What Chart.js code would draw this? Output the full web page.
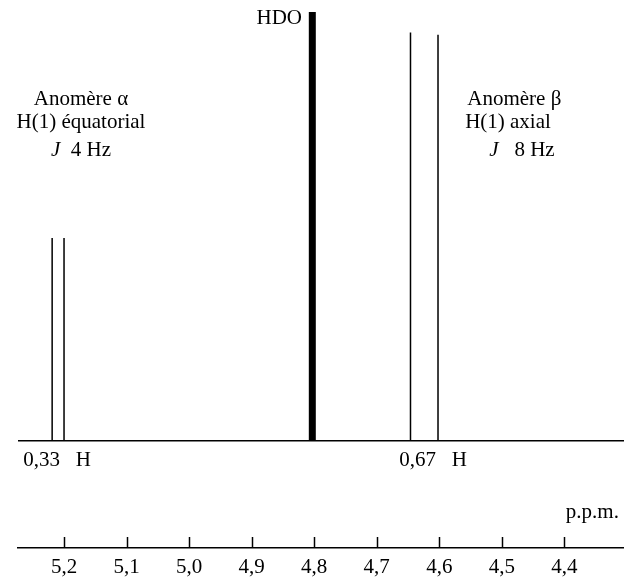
<!DOCTYPE html>
<html>
<head>
<meta charset="utf-8">
<script src="https://cdn.jsdelivr.net/npm/chart.js@4.4.0/dist/chart.umd.min.js"></script>
<style>
    body { margin: 0; background: #fff; }
    #wrap { width: 624px; height: 587px; }
</style>
</head>
<body>
<div id="wrap"><canvas id="nmrChart"></canvas></div>
<script>
// Déplacements chimiques (p.p.m.) et hauteurs relatives des raies
const alphaShifts = [5.219, 5.200];
const alphaHeights = [47.3, 47.3];
const betaShifts = [4.646, 4.602];
const betaHeights = [95.2, 94.7];
const hdoShift = [4.803];
const hdoHeight = [100];
const tickValues = [5.2, 5.1, 5.0, 4.9, 4.8, 4.7, 4.6, 4.5, 4.4];
const ppmMax = 5.2736;
const ppmMin = 4.3046;

const FONT = "'Liberation Serif', 'DejaVu Serif', serif";

// spectre : ligne de base + raies fines
function buildSpectrum() {
    let peaks = [];
    alphaShifts.forEach((p, i) => peaks.push({ p: p, h: alphaHeights[i] }));
    betaShifts.forEach((p, i) => peaks.push({ p: p, h: betaHeights[i] }));
    peaks.sort((a, b) => b.p - a.p);
    let pts = [{ x: ppmMax, y: 0 }];
    for (let pk of peaks) {
        pts.push({ x: pk.p, y: 0 });
        pts.push({ x: pk.p, y: pk.h });
        pts.push({ x: pk.p, y: 0 });
    }
    pts.push({ x: ppmMin, y: 0 });
    return pts;
}

function buildHdo() {
    let pts = [];
    hdoShift.forEach((p, i) => {
        pts.push({ x: p, y: 0 });
        pts.push({ x: p, y: hdoHeight[i] });
    });
    return pts;
}

// textes du schéma (position en p.p.m. / intensité)
const annotations = [
    { parts: [['Anomère α', false]], x: 5.1729, y: 79.6, align: 'center' },
    { parts: [['H(1) équatorial', false]], x: 5.1729, y: 74.3, align: 'center' },
    { parts: [['J', true], ['  4 Hz', false]], x: 5.1729, y: 67.7, align: 'center' },
    { parts: [['Anomère β', false]], x: 4.4800, y: 79.6, align: 'center' },
    { parts: [['H(1) axial', false]], x: 4.4901, y: 74.3, align: 'center' },
    { parts: [['J', true], ['   8 Hz', false]], x: 4.4677, y: 67.7, align: 'center' },
    { parts: [['HDO', false]], x: 4.8195, y: 98.6, align: 'right' },
    { parts: [['0,33   H', false]], x: 5.2112, y: -4.6, align: 'center' },
    { parts: [['0,67   H', false]], x: 4.6100, y: -4.6, align: 'center' },
    { parts: [['p.p.m.', false]], x: 4.3127, y: -16.7, align: 'right' }
];

const textPlugin = {
    id: 'textPlugin',
    afterDatasetsDraw(chart) {
        const ctx = chart.ctx;
        const xs = chart.scales.x, ys = chart.scales.y;
        ctx.save();
        ctx.fillStyle = '#000';
        ctx.textBaseline = 'middle';
        for (let a of annotations) {
            let widths = a.parts.map(pt => {
                ctx.font = (pt[1] ? 'italic ' : '') + '21px ' + FONT;
                return ctx.measureText(pt[0]).width;
            });
            let total = widths.reduce((s, w) => s + w, 0);
            let px = xs.getPixelForValue(a.x);
            let py = ys.getPixelForValue(a.y);
            let start = a.align === 'center' ? px - total / 2 : (a.align === 'right' ? px - total : px);
            ctx.textAlign = 'left';
            a.parts.forEach((pt, i) => {
                ctx.font = (pt[1] ? 'italic ' : '') + '21px ' + FONT;
                ctx.fillText(pt[0], start, py);
                start += widths[i];
            });
        }
        ctx.restore();
    }
};

// petites graduations vers le haut sur l'axe des p.p.m.
const tickPlugin = {
    id: 'tickPlugin',
    afterDraw(chart) {
        const ctx = chart.ctx;
        const xs = chart.scales.x;
        const yb = chart.chartArea.bottom;
        ctx.save();
        ctx.strokeStyle = '#000';
        ctx.lineWidth = 1.5;
        for (let v of tickValues) {
            let px = Math.round(xs.getPixelForValue(v)) + 0.5;
            ctx.beginPath();
            ctx.moveTo(px, yb);
            ctx.lineTo(px, yb - 11);
            ctx.stroke();
        }
        ctx.restore();
    }
};

let chart = new Chart(document.getElementById('nmrChart'), {
    type: 'scatter',
    data: {
        datasets: [{
            label: 'spectre',
            data: buildSpectrum(),
            showLine: true,
            borderColor: '#000',
            borderWidth: 1.5,
            pointRadius: 0,
            tension: 0
        }, {
            label: 'HDO',
            data: buildHdo(),
            showLine: true,
            borderColor: '#000',
            borderWidth: 7,
            borderCapStyle: 'butt',
            pointRadius: 0,
            tension: 0
        }]
    },
    options: {
        responsive: true,
        maintainAspectRatio: false,
        animation: false,
        layout: { padding: { left: 18, top: 12, right: 0, bottom: 0 } },
        plugins: {
            legend: { display: false },
            tooltip: { enabled: false },
            title: { display: false }
        },
        scales: {
            x: {
                type: 'linear',
                reverse: true,
                min: ppmMin,
                max: ppmMax,
                afterBuildTicks: function (scale) {
                    scale.ticks = tickValues.map(v => ({ value: v }));
                },
                grid: { display: false, drawTicks: false },
                border: { display: true, color: '#000', width: 1.5 },
                ticks: {
                    autoSkip: false,
                    maxRotation: 0,
                    padding: 9,
                    color: '#000',
                    font: { family: FONT, size: 21, lineHeight: 1 },
                    callback: v => v.toFixed(1).replace('.', ',')
                }
            },
            y: {
                display: false,
                min: -25,
                max: 100
            }
        }
    },
    plugins: [textPlugin, tickPlugin]
});
</script>
</body>
</html>
